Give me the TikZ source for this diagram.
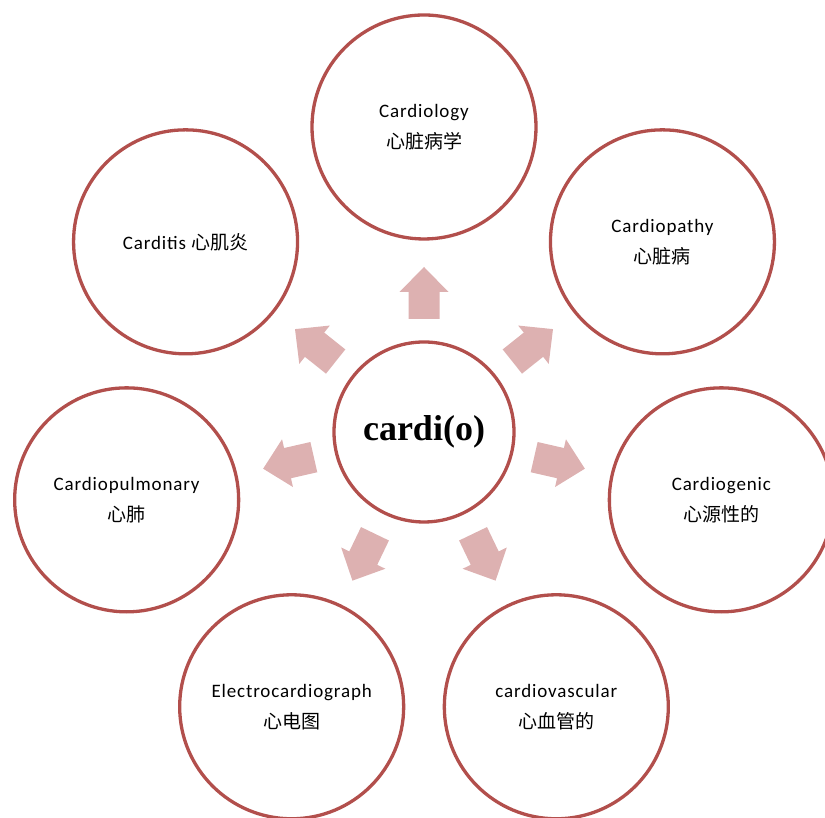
\documentclass[tikz,border=0pt]{standalone}
\usepackage{fontspec}
\setmainfont[LetterSpace=4.5]{Carlito}
\newfontfamily\cjk{Noto Sans CJK SC}
\newfontfamily\tnr{Liberation Serif}
\definecolor{ringcol}{HTML}{B24F4C}
\definecolor{arrcol}{HTML}{DDB1B1}
\begin{document}
\begin{tikzpicture}[x=1pt,y=1pt,
  ring/.style={circle, draw=ringcol, line width=3.3pt, minimum size=224pt, inner sep=0pt, align=center, font=\fontsize{19}{31}\selectfont},
  hubring/.style={circle, draw=ringcol, line width=3.3pt, minimum size=180pt, inner sep=0pt, font=\tnr\bfseries\fontsize{36}{40}\selectfont},
  blockarrow/.style={fill=arrcol, draw=none}]
\useasboundingbox (0,0) rectangle (825,818);
\begin{scope}
\clip (0,0) rectangle (825,818);
\node[hubring] (hub) at (424,386) {cardi(o)};
\foreach \a in {90,38.571,-12.857,-64.286,-115.714,-167.143,141.429}{
  \fill[blockarrow, shift={(hub.center)}, rotate=\a]
    (113,-15.5) -- (140,-15.5) -- (140,-24.5) -- (165,0) -- (140,24.5) -- (140,15.5) -- (113,15.5) -- cycle;
}
\node[ring] (n1) at ([shift={(90:305)}]hub.center) {Cardiology\\{\cjk 心脏病学}};
\node[ring] (n2) at ([shift={(38.571:305)}]hub.center) {Cardiopathy\\{\cjk 心脏病}};
\node[ring] (n3) at ([shift={(-12.857:305)}]hub.center) {Cardiogenic\\{\cjk 心源性的}};
\node[ring] (n4) at ([shift={(-64.286:305)}]hub.center) {cardiovascular\\{\cjk 心血管的}};
\node[ring] (n5) at ([shift={(-115.714:305)}]hub.center) {Electrocardiograph\\{\cjk 心电图}};
\node[ring] (n6) at ([shift={(-167.143:305)}]hub.center) {Cardiopulmonary\\{\cjk 心肺}};
\node[ring] (n7) at ([shift={(141.429:305)}]hub.center) {Carditis {\cjk 心肌炎}};
\end{scope}
\end{tikzpicture}
\end{document}
